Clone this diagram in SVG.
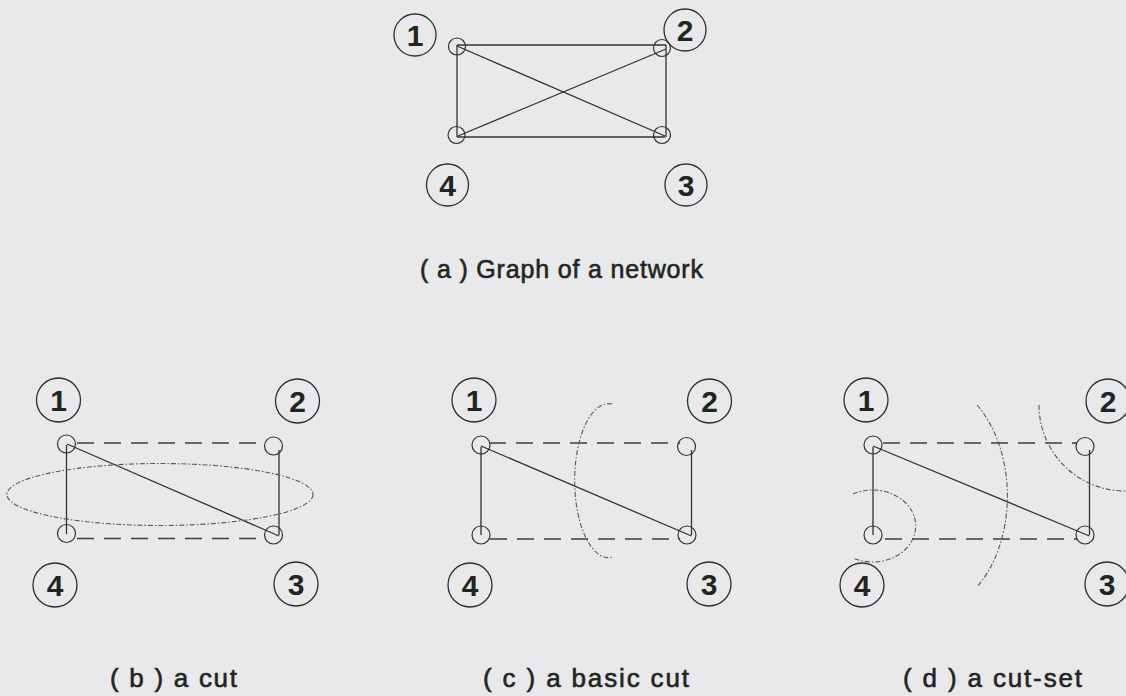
<svg xmlns="http://www.w3.org/2000/svg" width="1126" height="696" viewBox="0 0 1126 696">
  <style>
    .bg { fill: #e9e9eb; }
    .vtx { fill: none; stroke: #2f3430; stroke-width: 1.2; }
    .tag { fill: none; stroke: #2a302b; stroke-width: 1.3; }
    .num { font-family: "Liberation Sans", Arial, sans-serif; font-size: 30px; font-weight: bold; fill: #1f2621; text-anchor: middle; }
    .edge { stroke: #2f3430; stroke-width: 1.3; fill: none; }
    .dash { stroke: #3a403b; stroke-width: 1.3; fill: none; stroke-dasharray: 17 10; }
    .cut { stroke: #555a56; stroke-width: 1.1; fill: none; stroke-dasharray: 5 2 1.5 2; }
    .cap { font-family: "Liberation Sans", Arial, sans-serif; fill: #1f2621; stroke: #1f2621; stroke-width: 0.6; }
  </style>
  <rect class="bg" x="0" y="0" width="1126" height="696"/>

  <!-- (a) complete graph on four vertices -->
  <g id="graph-a">
    <g id="a-edges">
      <line class="edge" x1="457" y1="45" x2="666" y2="45"/>
      <line class="edge" x1="457" y1="137" x2="665" y2="137"/>
      <line class="edge" x1="457" y1="45" x2="457" y2="137"/>
      <line class="edge" x1="666" y1="45" x2="666" y2="137"/>
      <line class="edge" x1="457" y1="46" x2="665" y2="136"/>
      <line class="edge" x1="458" y1="136" x2="666" y2="49"/>
    </g>
    <g id="a-node1"><circle class="vtx" cx="457" cy="46.5" r="8.5"/><circle class="tag" cx="415" cy="35" r="21"/><text class="num" x="415" y="45.5">1</text></g>
    <g id="a-node2"><circle class="vtx" cx="662" cy="48" r="8.5"/><circle class="tag" cx="685" cy="30" r="21"/><text class="num" x="685" y="40.5">2</text></g>
    <g id="a-node3"><circle class="vtx" cx="662" cy="135" r="8.5"/><circle class="tag" cx="686" cy="185" r="21"/><text class="num" x="686" y="195.5">3</text></g>
    <g id="a-node4"><circle class="vtx" cx="456.5" cy="135" r="8.5"/><circle class="tag" cx="447.5" cy="185" r="21"/><text class="num" x="447.5" y="195.5">4</text></g>
    <text class="cap" x="420" y="278" font-size="25" textLength="283" lengthAdjust="spacing">( a ) Graph of a network</text>
  </g>

  <!-- (b) a cut -->
  <g id="graph-b">
    <g id="b-edges">
      <line class="dash" x1="77" y1="443" x2="265" y2="443"/>
      <line class="dash" x1="77" y1="538.5" x2="265" y2="538.5"/>
      <line class="edge" x1="66.5" y1="445" x2="66.5" y2="534"/>
      <line class="edge" x1="279" y1="450" x2="279" y2="535"/>
      <line class="edge" x1="67" y1="444" x2="279" y2="536"/>
      <ellipse class="cut" cx="160" cy="494.5" rx="153" ry="31"/>
    </g>
    <g id="b-node1"><circle class="vtx" cx="66.5" cy="444" r="9"/><circle class="tag" cx="58.5" cy="400" r="22"/><text class="num" x="58.5" y="410.5">1</text></g>
    <g id="b-node2"><circle class="vtx" cx="273.5" cy="446" r="9"/><circle class="tag" cx="297.5" cy="401" r="22"/><text class="num" x="297.5" y="411.5">2</text></g>
    <g id="b-node3"><circle class="vtx" cx="273.5" cy="535" r="9"/><circle class="tag" cx="296" cy="584" r="22"/><text class="num" x="296" y="594.5">3</text></g>
    <g id="b-node4"><circle class="vtx" cx="66.5" cy="533.5" r="9"/><circle class="tag" cx="55" cy="585" r="22"/><text class="num" x="55" y="595.5">4</text></g>
    <text class="cap" x="110" y="687" font-size="26" textLength="127" lengthAdjust="spacing">( b ) a cut</text>
  </g>

  <!-- (c) a basic cut -->
  <g id="graph-c">
    <g id="c-edges">
      <line class="dash" x1="489" y1="443" x2="680" y2="443"/>
      <line class="dash" x1="490" y1="539" x2="680" y2="539"/>
      <line class="edge" x1="481" y1="447" x2="481" y2="535"/>
      <line class="edge" x1="691.5" y1="450" x2="691.5" y2="535"/>
      <line class="edge" x1="481" y1="446" x2="691.5" y2="536"/>
      <path class="cut" d="M 612 404 A 34 77 0 1 0 613 557"/>
    </g>
    <g id="c-node1"><circle class="vtx" cx="481" cy="445" r="9"/><circle class="tag" cx="474" cy="400" r="22"/><text class="num" x="474" y="410.5">1</text></g>
    <g id="c-node2"><circle class="vtx" cx="686.5" cy="446.5" r="9"/><circle class="tag" cx="709.5" cy="401" r="22"/><text class="num" x="709.5" y="411.5">2</text></g>
    <g id="c-node3"><circle class="vtx" cx="687" cy="535" r="9"/><circle class="tag" cx="709" cy="584" r="22"/><text class="num" x="709" y="594.5">3</text></g>
    <g id="c-node4"><circle class="vtx" cx="481" cy="535" r="9"/><circle class="tag" cx="470" cy="585" r="22"/><text class="num" x="470" y="595.5">4</text></g>
    <text class="cap" x="483" y="687" font-size="26" textLength="206" lengthAdjust="spacing">( c ) a basic cut</text>
  </g>

  <!-- (d) a cut-set -->
  <g id="graph-d">
    <g id="d-edges">
      <line class="dash" x1="883" y1="443" x2="1077" y2="443"/>
      <line class="dash" x1="885" y1="539" x2="1077" y2="539"/>
      <line class="edge" x1="873" y1="447" x2="873" y2="535"/>
      <line class="edge" x1="1089.5" y1="450" x2="1089.5" y2="535"/>
      <line class="edge" x1="873" y1="446" x2="1089.5" y2="536"/>
      <path class="cut" d="M 853 494 A 43 36 0 1 1 853 558"/>
      <path class="cut" d="M 977 405 A 80 116 0 0 1 977 587"/>
      <path class="cut" d="M 1039 405 A 86 86 0 0 0 1126 491"/>
    </g>
    <g id="d-node1"><circle class="vtx" cx="873" cy="445" r="9"/><circle class="tag" cx="866" cy="400" r="22"/><text class="num" x="866" y="410.5">1</text></g>
    <g id="d-node2"><circle class="vtx" cx="1085" cy="446.5" r="9"/><circle class="tag" cx="1108" cy="401" r="22"/><text class="num" x="1108" y="411.5">2</text></g>
    <g id="d-node3"><circle class="vtx" cx="1085" cy="535" r="9"/><circle class="tag" cx="1107" cy="584" r="22"/><text class="num" x="1107" y="594.5">3</text></g>
    <g id="d-node4"><circle class="vtx" cx="873" cy="535" r="9"/><circle class="tag" cx="862" cy="585" r="22"/><text class="num" x="862" y="595.5">4</text></g>
    <text class="cap" x="903" y="687" font-size="26" textLength="179" lengthAdjust="spacing">( d ) a cut-set</text>
  </g>
</svg>
